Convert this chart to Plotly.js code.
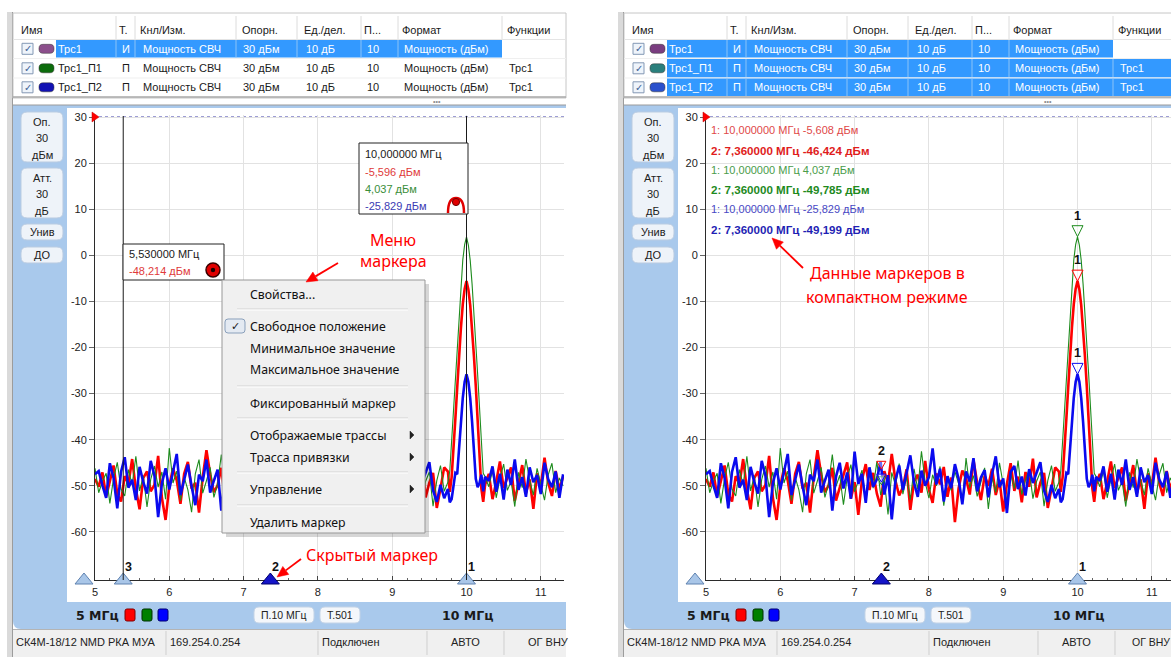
<!DOCTYPE html>
<html><head><meta charset="utf-8">
<script src="https://cdn.plot.ly/plotly-3.0.1.min.js"></script>
<style>html,body{margin:0;padding:0;background:#fff;overflow:hidden}#chart{width:1171px;height:657px}</style>
</head><body><div id="chart"></div>
<script>
// ---------------- DATA ----------------
const freqMHz = [
 5.00,5.05,5.10,5.15,5.20,5.25,5.30,5.35,5.40,5.45,
 5.50,5.55,5.60,5.65,5.70,5.75,5.80,5.85,5.90,5.95,
 6.00,6.05,6.10,6.15,6.20,6.25,6.30,6.35,6.40,6.45,
 6.50,6.55,6.60,6.65,6.70,6.75,6.80,6.85,6.90,6.95,
 7.00,7.05,7.10,7.15,7.20,7.25,7.30,7.35,7.40,7.45,
 7.50,7.55,7.60,7.65,7.70,7.75,7.80,7.85,7.90,7.95,
 8.00,8.05,8.10,8.15,8.20,8.25,8.30,8.35,8.40,8.45,
 8.50,8.55,8.60,8.65,8.70,8.75,8.80,8.85,8.90,8.95,
 9.00,9.05,9.10,9.15,9.20,9.25,9.30,9.35,9.40,9.45,
 9.50,9.55,9.60,9.65,9.70,
 9.75,9.775,9.80,9.825,9.85,9.875,9.90,9.925,9.95,9.975,
 10.00,10.025,10.05,10.075,10.10,10.125,10.15,10.175,10.20,10.225,10.25,
 10.30,10.35,10.40,10.45,10.50,10.55,10.60,10.65,10.70,10.75,
 10.80,10.85,10.90,10.95,11.00,11.05,11.10,11.15,11.20,11.25,11.30
];
const trc1Red = [
 -48.5,-50.2,-47.1,-52.3,-49.0,-45.6,-51.8,-53.4,-47.9,-49.6,
 -44.2,-50.7,-55.1,-48.3,-46.9,-51.2,-49.8,-43.5,-52.6,-57.4,
 -50.1,-46.2,-48.8,-53.9,-47.4,-44.8,-50.6,-49.3,-55.8,-48.1,
 -42.3,-47.5,-51.4,-49.9,-46.1,-53.2,-50.4,-47.7,-44.9,-52.8,
 -49.2,-56.3,-48.6,-45.3,-50.9,-47.2,-51.7,-54.5,-46.8,-49.5,
 -43.1,-48.9,-52.1,-50.3,-46.4,-55.2,-49.1,-47.6,-51.5,-44.6,
 -50.8,-53.7,-47.3,-49.7,-45.9,-52.4,-48.2,-57.9,-50.5,-46.7,
 -48.4,-51.9,-44.4,-49.4,-53.1,-47.8,-50.0,-46.3,-52.0,-48.7,
 -55.6,-49.6,-45.1,-51.1,-48.0,-53.6,-47.0,-50.2,-44.1,-52.5,
 -49.3,-47.2,-54.8,-50.6,-46.0,
 -46.9,-51.3,-48.1,-42.4,-35.5,-28.7,-21.5,-15.7,-10.6,-7.3,
 -5.6,-7.4,-10.8,-15.5,-21.8,-28.4,-35.9,-43.0,-50.6,-53.5,-49.8,
 -47.4,-52.9,-49.1,-44.7,-50.5,-48.2,-46.0,-53.3,-49.7,-45.5,
 -51.6,-48.6,-55.0,-47.3,-50.1,-43.9,-49.4,-52.2,-46.8,-50.8,-48.0
];
const trc1P1Green = [
 -46.2,-51.5,-49.0,-47.3,-53.8,-48.4,-44.9,-50.7,-52.2,-46.5,
 -49.8,-43.6,-51.1,-47.9,-54.6,-48.6,-45.7,-50.3,-47.0,-52.9,
 -41.8,-49.4,-46.8,-53.2,-48.1,-50.9,-55.7,-47.4,-44.3,-51.6,
 -48.9,-46.0,-52.5,-49.6,-43.2,-50.1,-47.7,-54.1,-48.3,-45.4,
 -51.3,-49.1,-46.6,-53.5,-47.5,-50.5,-44.7,-52.0,-48.8,-56.2,
 -47.1,-49.9,-45.2,-51.8,-48.0,-53.0,-46.3,-50.8,-42.5,-49.2,
 -52.7,-47.6,-50.0,-45.8,-54.3,-48.5,-51.0,-46.9,-49.5,-53.6,
 -44.0,-50.4,-47.8,-52.3,-49.3,-46.1,-55.0,-48.2,-51.4,-45.0,
 -49.7,-53.3,-47.2,-50.6,-44.5,-51.9,-48.7,-46.4,-52.8,-49.0,
 -47.0,-54.4,-48.9,-45.6,-51.2,
 -49.2,-46.8,-40.2,-33.1,-26.2,-19.0,-12.1,-6.0,-1.0,2.3,
 4.0,2.2,-1.1,-6.2,-11.8,-19.3,-25.8,-33.4,-40.5,-47.3,-48.0,
 -50.2,-46.7,-52.6,-48.4,-45.3,-51.0,-49.0,-54.5,-47.1,-50.4,
 -44.2,-48.8,-52.0,-46.2,-49.6,-53.1,-47.6,-45.1,-51.5,-48.3,-50.0
];
const trc1P2Blue = [
 -47.5,-46.8,-49.9,-52.6,-45.1,-48.3,-54.9,-47.0,-43.8,-50.4,
 -48.7,-53.1,-45.9,-49.2,-51.7,-44.6,-47.8,-56.8,-49.5,-46.2,
 -50.8,-47.3,-43.1,-52.0,-48.4,-45.4,-50.1,-54.2,-47.6,-49.0,
 -44.3,-51.5,-48.9,-46.5,-55.4,-48.0,-45.0,-50.6,-47.1,-52.8,
 -42.6,-49.6,-47.4,-53.7,-46.0,-50.2,-48.6,-44.8,-51.9,-47.7,
 -57.3,-48.8,-45.6,-50.9,-47.2,-43.4,-49.3,-52.4,-46.7,-50.0,
 -48.1,-41.9,-49.7,-46.3,-53.4,-47.9,-50.5,-45.3,-48.5,-54.0,
 -46.9,-49.1,-44.0,-51.2,-48.2,-46.6,-52.5,-47.5,-43.6,-50.3,
 -48.4,-55.9,-47.0,-45.7,-50.7,-48.0,-52.1,-46.4,-49.4,-47.3,
 -44.9,-51.0,-53.5,-49.8,-52.7,
 -50.7,-53.6,-52.9,-49.4,-47.2,-47.5,-41.7,-35.9,-30.9,-27.5,
 -25.8,-27.4,-31.0,-36.1,-42.0,-48.5,-50.3,-49.4,-47.6,-51.2,-48.1,
 -48.9,-45.8,-51.3,-47.4,-53.0,-46.5,-49.8,-44.3,-50.9,-48.1,
 -52.4,-46.0,-49.2,-47.7,-51.8,-45.0,-48.6,-50.3,-46.9,-52.6,-47.5
];
const freqTicks = [5,6,7,8,9,10,11];
const freqTickText = ['5','6','7','8','9','10','11'];
const dbTicks = [30,20,10,0,-10,-20,-30,-40,-50,-60];
const dbTickText = ['30','20','10','0','-10','-20','-30','-40','-50','-60'];

const markerIdsLeft = ['1','2','3'];
const markerFreqLeft = [10, 7.36, 5.38];
const markerIdsRight = ['1','2'];
const markerFreqRight = [10, 7.36];
const marker1Dbm = [-5.608, 4.037, -25.829];   // red, green, blue
const marker2Dbm = [-46.424, -49.785, -49.199];

const colNames = ['Имя','Т.','Кнл/Изм.','Опорн.','Ед./дел.','П...','Формат','Функции'];
const traceNames = ['Трс1','Трс1_П1','Трс1_П2'];
const traceKinds = ['И','П','П'];
const traceMeas = ['Мощность СВЧ','Мощность СВЧ','Мощность СВЧ'];
const traceRef = ['30 дБм','30 дБм','30 дБм'];
const traceScale = ['10 дБ','10 дБ','10 дБ'];
const traceRefPos = ['10','10','10'];
const traceFormat = ['Мощность (дБм)','Мощность (дБм)','Мощность (дБм)'];
const traceFunc = ['','Трс1','Трс1'];

const sideButtons = [['Оп.','30','дБм'],['Атт.','30','дБ'],['Унив'],['ДО']];
const statusItems = ['СК4М-18/12 NMD РКА МУА','169.254.0.254','Подключен','АВТО','ОГ ВНУ'];

const menuItems = ['Свойства...','Свободное положение','Минимальное значение','Максимальное значение','Фиксированный маркер','Отображаемые трассы','Трасса привязки','Управление','Удалить маркер'];
const menuSub = [false,false,false,false,false,true,true,true,false];

const box1Lines = ['10,000000 МГц','-5,596 дБм','4,037 дБм','-25,829 дБм'];
const box3Lines = ['5,530000 МГц','-48,214 дБм'];
const compactLines = ['1: 10,000000 МГц -5,608 дБм','2: 7,360000 МГц -46,424 дБм','1: 10,000000 МГц 4,037 дБм','2: 7,360000 МГц -49,785 дБм','1: 10,000000 МГц -25,829 дБм','2: 7,360000 МГц -49,199 дБм'];

// ---------------- HELPERS ----------------
const W=1171,H=657;
const FONT='"Liberation Sans", Arial, sans-serif';
const BFONT='"DejaVu Sans", Verdana, sans-serif';
const MFONT='"Noto Sans", "Open Sans", sans-serif';
const PXMHZ=74.3, PXDB=4.61;
const fx=p=>p/W, fy=p=>1-p/H;
const shapes=[], ann=[];
function rect(x0,y0,x1,y1,fill,lc,lw,layer){shapes.push({type:'rect',xref:'paper',yref:'paper',x0:fx(x0),x1:fx(x1),y0:fy(y1),y1:fy(y0),fillcolor:fill||'rgba(0,0,0,0)',line:{color:lc||'rgba(0,0,0,0)',width:lw||0},layer:layer||'below'});}
function seg(x0,y0,x1,y1,c,w,dash,layer){shapes.push({type:'line',xref:'paper',yref:'paper',x0:fx(x0),x1:fx(x1),y0:fy(y0),y1:fy(y1),line:{color:c,width:w||1,dash:dash||'solid'},layer:layer||'below'});}
function P(x,y){return fx(x).toFixed(5)+','+fy(y).toFixed(5);}
function pth(d,fill,lc,lw,layer){shapes.push({type:'path',xref:'paper',yref:'paper',path:d,fillcolor:fill||'rgba(0,0,0,0)',line:{color:lc||'rgba(0,0,0,0)',width:lw||0},layer:layer||'below'});}
function rr(x0,y0,x1,y1,r){return 'M'+P(x0+r,y0)+' L'+P(x1-r,y0)+' Q'+P(x1,y0)+' '+P(x1,y0+r)+' L'+P(x1,y1-r)+' Q'+P(x1,y1)+' '+P(x1-r,y1)+' L'+P(x0+r,y1)+' Q'+P(x0,y1)+' '+P(x0,y1-r)+' L'+P(x0,y0+r)+' Q'+P(x0,y0)+' '+P(x0+r,y0)+' Z';}
function poly(pts){return 'M'+pts.map(p=>P(p[0],p[1])).join(' L')+' Z';}
function circ(cx,cy,r,fill,lc,lw,layer){shapes.push({type:'circle',xref:'paper',yref:'paper',x0:fx(cx-r),x1:fx(cx+r),y0:fy(cy+r),y1:fy(cy-r),fillcolor:fill,line:{color:lc||fill,width:lw||0},layer:layer||'above'});}
function txt(x,y,t,size,color,opt){opt=opt||{};ann.push({xref:'paper',yref:'paper',x:fx(x),y:fy(y),text:t,showarrow:false,xanchor:opt.xa||'left',yanchor:'middle',font:{family:opt.f||FONT,size:size,color:color},borderpad:0});}
function arrow(x0,y0,x1,y1,c){const dx=x1-x0,dy=y1-y0,L=Math.hypot(dx,dy),ux=dx/L,uy=dy/L;const bx=x1-ux*11,by=y1-uy*11;seg(x0,y0,bx,by,c,1.8,'solid','above');pth(poly([[x1,y1],[bx-uy*5,by+ux*5],[bx+uy*5,by-ux*5]]),c,c,0.5,'above');}

// ---------------- PANEL ----------------
function panel(dx, right){
  const X=v=>v+dx;
  const xr = right?'x2':'x';
  // window border
  rect(X(7),12,X(12),657,'#dadada');
  seg(X(12.5),12,X(12.5),657,'#9c9c9c',1);
  // table
  rect(X(13),13,X(566),98,'#ffffff','#c6c6c6',1);
  const colX=[20,118,139,241,303,363,401,506];
  const colSep=[116,135,236,297,361,398,502];
  colSep.forEach(s=>seg(X(s),16,X(s),39,'#dcdcdc',1));
  seg(X(13),39.5,X(566),39.5,'#e4e4e4',1);
  colNames.forEach((c,i)=>txt(X(colX[i]),30,c,11,'#1a1a1a'));
  const rowC=[48.8,68.3,87.3], rowT=[40,59,78.5], rowB=[57.5,77.5,96];
  const swL=['#8c4f8c','#0b6b0b','#1212b4'], swR=['#7a3d80','#2a7f7c','#2a50cc'];
  const cellX=[57,121,142,242,305,366,403,508];
  for(let r=0;r<3;r++){
    const sel = right ? true : r===0;
    if(r>0) seg(X(13),rowT[r]-0.5,X(566),rowT[r]-0.5,'#efefef',1);
    if(sel){
      const xEnd = traceFunc[r] ? 566 : 502;
      rect(X(56),rowT[r],X(xEnd),rowB[r],'#3399ff');
      colSep.forEach(s=>{ if(s>56 && s<xEnd) seg(X(s),rowT[r],X(s),rowB[r],'#8cc3f7',1); });
    }
    const c=rowC[r];
    rect(X(22),c-5.5,X(33),c+5.5,'#eef4fb','#8398b4',1);
    txt(X(27.5),c,'✓',10,'#3d5f96',{xa:'center',f:BFONT});
    pth(rr(X(39),c-4.5,X(54),c+4.5,4),(right?swR:swL)[r],'#333',0.5);
    const tc = sel?'#ffffff':'#1a1a1a';
    const cells=[traceNames[r],traceKinds[r],traceMeas[r],traceRef[r],traceScale[r],traceRefPos[r],traceFormat[r],traceFunc[r]];
    cells.forEach((t,i)=>{ if(t) txt(X(cellX[i]),c,t,11,tc); });
  }
  seg(X(13),97,X(566),97,'#a9a9a9',1.5);
  txt(X(437),101.5,'•••',7,'#8a8a8a',{xa:'center'});
  // blue frame
  pth('M'+P(X(13),105)+' L'+P(X(566),105)+' L'+P(X(566),629)+' L'+P(X(21),629)+' Q'+P(X(13),629)+' '+P(X(13),621)+' Z','#a9c9ec');
  seg(X(13),105,X(566),105,'#9a9a9a',1);
  rect(X(67),108,X(566),602,'#ffffff');
  // side buttons
  const bT=[112,168,224,247], bB=[162,218,240,263];
  const bLines=[[122,138,155],[178,194,211],[232],[255]];
  sideButtons.forEach((b,i)=>{
    pth(rr(X(21),bT[i],X(63),bB[i],6),'#eef3f9','#b9cbe1',1);
    b.forEach((t,j)=>txt(X(42),bLines[i][j],t,11,'#222',{xa:'center'}));
  });
  // bottom bar
  txt(X(75),615,'<b>5 МГц</b>',12.5,'#1a1a1a',{f:BFONT});
  [['#ff0000','#800000',125],['#008000','#003000',142],['#0000ff','#000070',158]].forEach(s=>pth(rr(X(s[2]),609,X(s[2]+10),621,2),s[0],s[1],1));
  pth(rr(X(254),607,X(314),623,5),'#f4f7fb','#c3d3e6',1);
  txt(X(284),615,'П.10 МГц',10.5,'#222',{xa:'center'});
  pth(rr(X(320),607,X(360),623,5),'#f4f7fb','#c3d3e6',1);
  txt(X(340),615,'Т.501',10.5,'#222',{xa:'center'});
  txt(X(467),615,'<b>10 МГц</b>',12.5,'#1a1a1a',{xa:'center',f:BFONT});
  // status bar
  rect(X(13),629.5,X(566),657,'#f0f0f0');
  seg(X(13),629.5,X(566),629.5,'#b4b4b4',1);
  [166,318,427,504].forEach(s=>seg(X(s),631,X(s),655,'#cfcfcf',1));
  const sX=[15,169,321,465,right?520:527];
  statusItems.forEach((t,i)=>txt(X(sX[i]),642,t,(right&&i===4)?10.5:11,'#222',{xa:i===3?'center':'left'}));
  // reference level indicator
  pth(poly([[X(92),112],[X(99),117],[X(92),122]]),'#ff0000','#c00000',0.5,'above');
  seg(X(99),117,X(566),117,'#3a3aa8',1,'3px,3px','below');
  // start indicator triangle
  pth(poly([[X(75),584],[X(84),573],[X(93),584]]),'#a9c6e8','#5f82b0',1,'above');
  // marker triangles on the axis (data x)
  const ids = right?markerIdsRight:markerIdsLeft, fr = right?markerFreqRight:markerFreqLeft;
  fr.forEach((f,i)=>{
    const hidden = ids[i]==='2';
    shapes.push({type:'path',xref:xr,yref:'paper',xsizemode:'pixel',ysizemode:'pixel',xanchor:f,yanchor:fy(580),path:'M-9,-4 L0,7 L9,-4 Z',fillcolor:hidden?'#1414c8':'#a9c6e8',line:{color:hidden?'#00006e':'#5f82b0',width:1},layer:'above'});
    ann.push({xref:xr,yref:'paper',x:f,y:fy(567),xshift:5,text:'<b>'+ids[i]+'</b>',showarrow:false,xanchor:'center',yanchor:'middle',font:{family:FONT,size:12.5,color:'#111'}});
  });
}

panel(0,false);
panel(611,true);

// ---------------- LEFT PANEL OVERLAYS ----------------
markerFreqLeft.forEach((f,i)=>{ if(markerIdsLeft[i]!=='2') shapes.push({type:'line',xref:'x',yref:'paper',x0:f,x1:f,y0:fy(580),y1:fy(116),line:{color:'#1a1a1a',width:1},layer:'above'}); });
// marker box 1
rect(359,143,468,214,'#ffffff','#222',1,'above');
const b1c=['#1a1a1a','#e03a3a','#3a8e3a','#3a3ab4'], b1y=[154,172,189,206];
box1Lines.forEach((t,i)=>txt(364,b1y[i],t,11,b1c[i]));
pth('M'+P(448,213)+' Q'+P(448,198)+' '+P(456,198)+' Q'+P(464,198)+' '+P(464,213),'rgba(0,0,0,0)','#e00000',2.5,'above');
circ(456,202,3.6,'#e00000','#700000',1);
// marker box 3
rect(123,244,224,280,'#ffffff','#222',1,'above');
txt(128,254,box3Lines[0],11,'#1a1a1a');
txt(128,271,box3Lines[1],11,'#e03a3a');
circ(213,270,7,'#e00000','#3a0000',1.5);
circ(213,270,2.2,'#1a0000','#1a0000',0);
// context menu
rect(226,284,429,537,'rgba(0,0,0,0.16)',null,0,'above');
rect(222,280,425,533,'#f0f0f0','#979797',1,'above');
[309,386,418,472,505].forEach(y=>{seg(237,y,408,y,'#d3d3d3',1,'solid','above');seg(237,y+1,408,y+1,'#ffffff',1,'solid','above');});
pth(rr(225,319,245,333,3),'#e4eaf2','#8aa0bb',1,'above');
txt(235,326,'✓',11,'#1a1a1a',{xa:'center',f:BFONT});
const menuY=[294,326,348,369,403,435,457,489,522];
menuItems.forEach((t,i)=>{
  txt(249,menuY[i],t,12.3,'#111',{f:MFONT});
  if(menuSub[i]) pth(poly([[410,menuY[i]-4],[414,menuY[i]],[410,menuY[i]+4]]),'#222','#222',0.5,'above');
});
// red annotations
txt(393,240,'Меню',16,'#ff0000',{xa:'center',f:MFONT});
txt(393,261,'маркера',16,'#ff0000',{xa:'center',f:MFONT});
arrow(338,263,306,282,'#ff0000');
txt(305,555,'Скрытый маркер',16,'#ff0000',{f:MFONT});
arrow(301,559,277,577,'#ff0000');

// ---------------- RIGHT PANEL OVERLAYS ----------------
const cCol=['#e04848','#e01c1c','#4a9c4a','#1e8a1e','#4848c4','#1f1fb4'];
const cY=[130,150,170,189,209,229];
compactLines.forEach((t,i)=>{ const b=i%2===1; txt(710,cY[i],b?'<b>'+t+'</b>':t,b?11.6:11,cCol[i]); });
txt(887,273,'Данные маркеров в',16,'#ff0000',{xa:'center',f:MFONT});
txt(887,297,'компактном режиме',16,'#ff0000',{xa:'center',f:MFONT});
arrow(803,268,772,238,'#ff0000');
const tCol=['#ff0000','#1e8c1e','#0a0aef'];
marker1Dbm.forEach((v,i)=>{
  shapes.push({type:'path',xref:'x2',yref:'y2',xsizemode:'pixel',ysizemode:'pixel',xanchor:markerFreqRight[0],yanchor:v,path:'M-5.5,11 L5.5,11 L0,0 Z',fillcolor:'rgba(255,255,255,0.55)',line:{color:tCol[i],width:1},layer:'above'});
  ann.push({xref:'x2',yref:'y2',x:markerFreqRight[0],y:v,yshift:21,text:'<b>1</b>',showarrow:false,xanchor:'center',yanchor:'middle',font:{family:FONT,size:12.5,color:'#111'}});
});
marker2Dbm.forEach((v,i)=>{
  shapes.push({type:'path',xref:'x2',yref:'y2',xsizemode:'pixel',ysizemode:'pixel',xanchor:markerFreqRight[1],yanchor:v,path:'M-4.5,8 L4.5,8 L0,0 Z',fillcolor:'rgba(255,255,255,0.4)',line:{color:tCol[i],width:1},layer:'above'});
});
ann.push({xref:'x2',yref:'y2',x:markerFreqRight[1],y:marker2Dbm[0],yshift:18,text:'<b>2</b>',showarrow:false,xanchor:'center',yanchor:'middle',font:{family:FONT,size:12.5,color:'#111'}});

// ---------------- TRACES ----------------
const traces=[];
[['x','y'],['x2','y2']].forEach(([xr,yr])=>{
  traces.push({x:freqMHz,y:trc1Red,xaxis:xr,yaxis:yr,mode:'lines',line:{color:'#ff0000',width:2.6},hoverinfo:'skip'});
  traces.push({x:freqMHz,y:trc1P1Green,xaxis:xr,yaxis:yr,mode:'lines',line:{color:'#1e8c1e',width:1.1},hoverinfo:'skip'});
  traces.push({x:freqMHz,y:trc1P2Blue,xaxis:xr,yaxis:yr,mode:'lines',line:{color:'#0a0aef',width:2.6},hoverinfo:'skip'});
});

function xa(dom,anchor,widthPx){return {domain:dom,anchor:anchor,range:[5,5+widthPx/PXMHZ],tickmode:'array',tickvals:freqTicks,ticktext:freqTickText,showgrid:true,gridcolor:'#e2e2e2',gridwidth:1,zeroline:false,showline:true,linecolor:'#2b2b2b',linewidth:1,ticks:'inside',ticklen:4,tickcolor:'#444',minor:{tick0:5,dtick:0.2,ticks:'inside',ticklen:2,tickcolor:'#666',showgrid:false},tickfont:{family:FONT,size:11,color:'#222'},ticklabelstandoff:2,fixedrange:true};}
function ya(anchor){return {domain:[1-580/H,1-115/H],anchor:anchor,range:[30-(580-117)/PXDB,30+(117-115)/PXDB],tickmode:'array',tickvals:dbTicks,ticktext:dbTickText,showgrid:true,gridcolor:'#e2e2e2',gridwidth:1,zeroline:false,showline:true,linecolor:'#2b2b2b',linewidth:1,ticks:'outside',ticklen:5,tickcolor:'#666',tickfont:{family:FONT,size:11,color:'#222'},fixedrange:true};}

const layout={width:W,height:H,margin:{l:0,r:0,t:0,b:0,pad:0},paper_bgcolor:'#ffffff',plot_bgcolor:'rgba(0,0,0,0)',showlegend:false,
  xaxis:xa([95/W,564/W],'y',469),yaxis:ya('x'),
  xaxis2:xa([706/W,1],'y2',465),yaxis2:ya('x2'),
  shapes:shapes,annotations:ann};
Plotly.newPlot('chart',traces,layout,{displayModeBar:false,staticPlot:true});
</script></body></html>
